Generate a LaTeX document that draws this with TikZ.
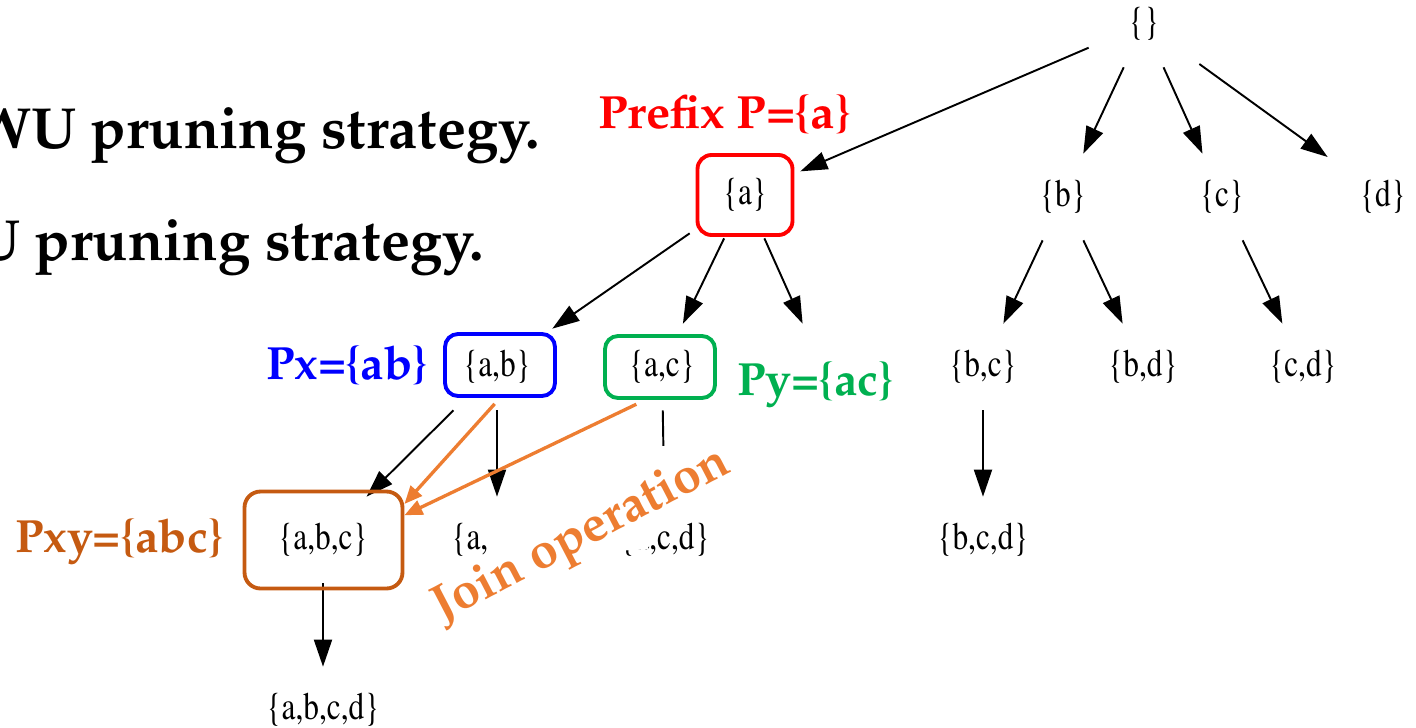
\documentclass[tikz,border=0pt]{standalone}
\usepackage[T1]{fontenc}
\renewcommand{\rmdefault}{ppl}
\usepackage{graphicx}
\usetikzlibrary{arrows.meta}

\definecolor{pred}{HTML}{FF0000}
\definecolor{pblue}{HTML}{0000FF}
\definecolor{pgreen}{HTML}{00B050}
\definecolor{pbrown}{HTML}{C55A11}
\definecolor{joinor}{HTML}{ED7D31}

\newcommand\treefont{\fontfamily{ptm}\fontseries{m}\fontsize{22}{24}\selectfont}
\newcommand\tl[1]{\scalebox{0.81}[1]{#1}}
\newcommand\bigfont{\fontsize{33}{40}\selectfont\bfseries}
\newcommand\lblfont{\fontsize{26.5}{30}\selectfont\bfseries}
\newcommand\joinfont{\fontsize{28.5}{32}\selectfont\bfseries}

\begin{document}
\begin{tikzpicture}[x=0.02cm,y=-0.02cm,
  tn/.style={inner sep=0, minimum width=2.2cm, minimum height=1.72cm, font=\treefont},
  edge/.style={draw=black, line width=1.1pt, -{Triangle[length=0.54cm,width=0.36cm]}},
  hbox/.style={draw, line width=2.2pt, rounded corners=0.26cm, inner sep=0},
  lbl/.style={font=\lblfont, inner sep=0, anchor=base west},
  jarrow/.style={draw=joinor, line width=1.9pt, -{Triangle[length=0.36cm,width=0.3cm]}}
]
\useasboundingbox (0,0) rectangle (1416,727);
\clip (0,0) rectangle (1416,727);

% bullet text on the left
\node[anchor=base east, inner sep=0, font=\bigfont] (s1) at (540,148) {WU pruning strategy.};
\node[anchor=base east, inner sep=0, font=\bigfont] (s2) at (484,260) {U pruning strategy.};

% set-enumeration tree
\node[tn] (r)    at (1144,24)  {\tl{\{\}}};
\node[tn] (a)    at (745,195)  {\tl{\{a\}}};
\node[tn] (b)    at (1063,197) {\tl{\{b\}}};
\node[tn] (c)    at (1222,197) {\tl{\{c\}}};
\node[tn] (d)    at (1383,197) {\tl{\{d\}}};
\node[tn] (ab)   at (497,367)  {\tl{\{a,b\}}};
\node[tn] (ac)   at (662,367)  {\tl{\{a,c\}}};
\node[tn] (ad)   at (822,367)  {};
\node[tn] (bc)   at (983,367)  {\tl{\{b,c\}}};
\node[tn] (bd)   at (1143,367) {\tl{\{b,d\}}};
\node[tn] (cd)   at (1303,367) {\tl{\{c,d\}}};
\node[tn] (abc)  at (323,540)  {\tl{\{a,b,c\}}};
\node[tn] (abd)  at (497,540)  {\tl{\{a,b,d\}}};
\node[tn] (acd)  at (665,540)  {\tl{\{a,c,d\}}};
\node[tn] (bcd)  at (983,540)  {\tl{\{b,c,d\}}};
\node[tn] (abcd) at (323,710)  {\tl{\{a,b,c,d\}}};

\draw[edge] (r) -- (a);
\draw[edge] (r) -- (b);
\draw[edge] (r) -- (c);
\draw[edge] (r) -- (d);
\draw[edge] (a) -- (ab);
\draw[edge] (a) -- (ac);
\draw[edge] (a) -- (ad);
\draw[edge] (b) -- (bc);
\draw[edge] (b) -- (bd);
\draw[edge] (c) -- (cd);
\draw[edge] (ab) -- (abc);
\draw[edge] (ab) -- (abd);
\draw[edge] (ac) -- (acd);
\draw[edge] (bc) -- (bcd);
\draw[edge] (abc) -- (abcd);

% white panel behind the rotated caption
\fill[white] (488,521) -- (612,521) -- (655,446) -- (676,446) -- (676,510)
  -- (648,522) -- (648,549) -- (615,551) -- (560,578) -- (488,578) -- cycle;
\begin{scope}[shift={(442,622)}, rotate=27.5]
  \node[anchor=base west, inner sep=0, text=joinor, font=\joinfont, transform shape] (jt) at (0,0) {Join operation};
\end{scope}

% highlight boxes
\node[hbox, draw=pred,   minimum width=1.9cm,  minimum height=1.6cm,  rounded corners=0.28cm] (boxa)   at (745,195)   {};
\node[hbox, draw=pblue,  minimum width=2.2cm,  minimum height=1.24cm] (boxab)  at (500,365)   {};
\node[hbox, draw=pgreen, minimum width=2.2cm,  minimum height=1.24cm] (boxac)  at (660,367)   {};
\node[hbox, draw=pbrown, minimum width=3.16cm, minimum height=1.94cm, rounded corners=0.32cm] (boxabc) at (323.5,540) {};

% labels
\node[lbl, text=pred]   (lp)  at (598,128) {\scalebox{1.04}[1]{Prefix P=\{a\}}};
\node[lbl, text=pblue]  (lx)  at (266,379) {Px=\{ab\}};
\node[lbl, text=pgreen] (ly)  at (737,395) {Py=\{ac\}};
\node[lbl, text=pbrown] (lxy) at (15,552)  {Pxy=\{abc\}};

% join arrows
\draw[jarrow, shorten <=0.16cm] (boxab.south) -- (boxabc.24);
\draw[jarrow, shorten <=0.2cm] (boxac.246) -- (boxabc.17);
\end{tikzpicture}
\end{document}
